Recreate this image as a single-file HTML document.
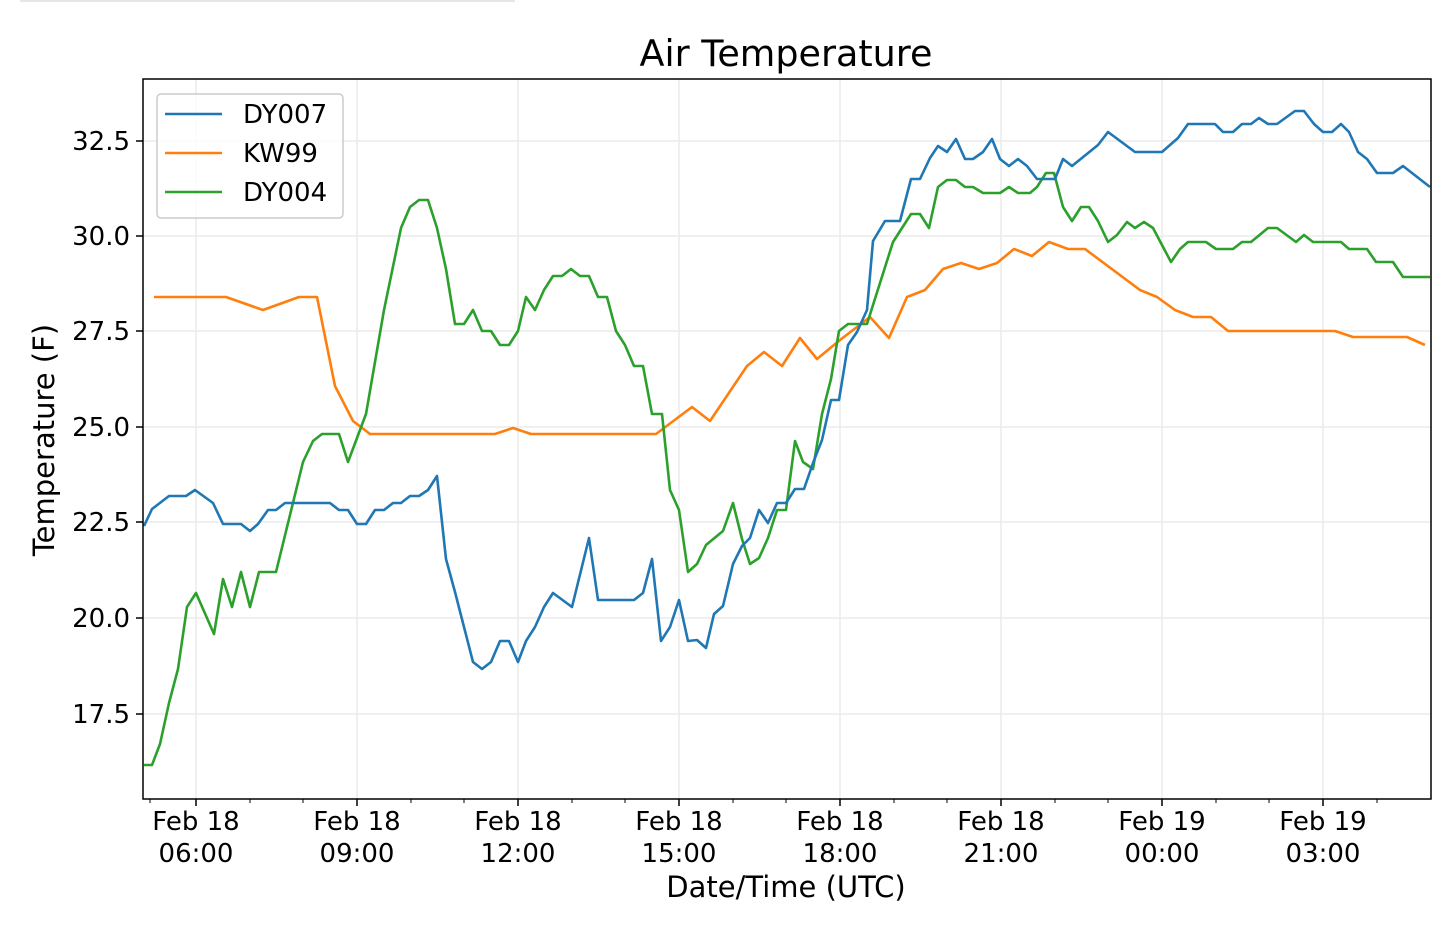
<!DOCTYPE html>
<html><head><meta charset="utf-8"><style>
html,body{margin:0;padding:0;background:#fff;}
svg{display:block;font-family:"DejaVu Sans","Liberation Sans",sans-serif;}
</style></head><body>
<svg width="1440" height="926" viewBox="0 0 1440 926" xmlns="http://www.w3.org/2000/svg">
<rect width="1440" height="926" fill="#fff"/>
<line x1="20" y1="1" x2="515" y2="1" stroke="#e6e6e6" stroke-width="2"/>
<g stroke="#ebebeb" stroke-width="1.5">
<line x1="196" y1="79" x2="196" y2="799"/><line x1="357" y1="79" x2="357" y2="799"/>
<line x1="518" y1="79" x2="518" y2="799"/><line x1="679" y1="79" x2="679" y2="799"/>
<line x1="840" y1="79" x2="840" y2="799"/><line x1="1001" y1="79" x2="1001" y2="799"/>
<line x1="1162" y1="79" x2="1162" y2="799"/><line x1="1323" y1="79" x2="1323" y2="799"/>
<line x1="143" y1="141" x2="1431" y2="141"/><line x1="143" y1="236" x2="1431" y2="236"/>
<line x1="143" y1="331" x2="1431" y2="331"/><line x1="143" y1="427" x2="1431" y2="427"/>
<line x1="143" y1="522" x2="1431" y2="522"/><line x1="143" y1="618" x2="1431" y2="618"/>
<line x1="143" y1="714" x2="1431" y2="714"/>
</g>
<g fill="none" stroke-width="2.6" stroke-linejoin="round">
<polyline stroke="#ff7f0e" points="154,297 226,297 263,310 299,297 317,297 335,386 353,421 370,434 495,434 513,428 531,434 656,434 692,407 710,421 747,366 764,352 782,366 800,338 817,359 840,340 870,317 889,338 907,297 925,290 943,269 961,263 979,269 997,263 1014,249 1032,256 1049,242 1068,249 1085,249 1140,290 1157,297 1175,310 1193,317 1211,317 1228,331 1335,331 1353,337 1407,337 1425,345"/>
<polyline stroke="#2ca02c" points="144,765 152,765 160,744 169,703 178,669 187,607 196,593 214,634 223,579 232,607 241,572 250,607 259,572 276,572 303,462 313,441 322,434 339,434 348,462 366,414 384,310 401,228 410,207 419,200 428,200 437,228 446,269 455,324 464,324 473,310 482,331 491,331 500,345 509,345 518,331 526,297 535,310 544,290 553,276 562,276 571,269 580,276 589,276 598,297 607,297 616,331 625,345 634,366 643,366 652,414 662,414 670,490 679,510 688,572 697,564 706,545 723,531 733,503 742,539 750,564 759,558 768,538 777,510 786,510 795,441 803,462 813,469 822,414 831,379 839,331 848,324 867,324 893,242 911,214 920,214 929,228 938,187 947,180 956,180 965,187 973,187 983,193 1000,193 1009,187 1018,193 1030,193 1037,187 1046,173 1054,173 1063,207 1072,221 1081,207 1089,207 1098,221 1108,242 1117,235 1127,222 1135,228 1144,222 1153,228 1171,262 1180,249 1188,242 1206,242 1216,249 1233,249 1242,242 1251,242 1268,228 1277,228 1296,242 1304,235 1313,242 1341,242 1349,249 1367,249 1376,262 1393,262 1403,277 1430,277"/>
<polyline stroke="#1f77b4" points="144,526 152,509 169,496 186,496 195,490 213,503 223,524 241,524 250,531 258,524 268,510 276,510 285,503 330,503 339,510 348,510 357,524 366,524 375,510 384,510 393,503 401,503 410,496 419,496 428,490 437,476 446,559 455,592 473,662 482,669 491,662 500,641 509,641 518,662 526,641 535,627 544,607 553,593 572,607 589,538 598,600 634,600 643,593 652,559 661,641 670,627 679,600 688,641 697,640 706,648 714,614 723,606 733,564 742,546 750,538 759,510 768,523 777,503 786,503 795,489 804,489 813,463 822,440 831,400 839,400 848,345 857,332 867,310 873,241 885,221 900,221 911,179 920,179 930,158 938,146 947,152 956,139 965,159 973,159 983,152 992,139 1000,159 1009,166 1018,159 1027,166 1037,179 1055,179 1063,159 1072,166 1098,145 1108,132 1135,152 1162,152 1178,138 1188,124 1215,124 1223,132 1233,132 1242,124 1251,124 1259,118 1268,124 1277,124 1295,111 1304,111 1314,124 1323,132 1332,132 1341,124 1349,132 1358,152 1367,159 1377,173 1393,173 1403,166 1430,187"/>
</g>
<rect x="143" y="79" width="1288" height="720" fill="none" stroke="#000" stroke-width="1.5"/>
<g stroke="#000" stroke-width="1.5">
<line x1="136" y1="141" x2="143" y2="141"/><line x1="136" y1="236" x2="143" y2="236"/>
<line x1="136" y1="331" x2="143" y2="331"/><line x1="136" y1="427" x2="143" y2="427"/>
<line x1="136" y1="522" x2="143" y2="522"/><line x1="136" y1="618" x2="143" y2="618"/>
<line x1="136" y1="714" x2="143" y2="714"/>
<line x1="196" y1="799" x2="196" y2="806"/><line x1="357" y1="799" x2="357" y2="806"/>
<line x1="518" y1="799" x2="518" y2="806"/><line x1="679" y1="799" x2="679" y2="806"/>
<line x1="840" y1="799" x2="840" y2="806"/><line x1="1001" y1="799" x2="1001" y2="806"/>
<line x1="1162" y1="799" x2="1162" y2="806"/><line x1="1323" y1="799" x2="1323" y2="806"/>
</g>
<g stroke="#000" stroke-width="1">
<line x1="250" y1="799" x2="250" y2="803"/><line x1="303" y1="799" x2="303" y2="803"/>
<line x1="411" y1="799" x2="411" y2="803"/><line x1="464" y1="799" x2="464" y2="803"/>
<line x1="572" y1="799" x2="572" y2="803"/><line x1="625" y1="799" x2="625" y2="803"/>
<line x1="733" y1="799" x2="733" y2="803"/><line x1="786" y1="799" x2="786" y2="803"/>
<line x1="894" y1="799" x2="894" y2="803"/><line x1="947" y1="799" x2="947" y2="803"/>
<line x1="1055" y1="799" x2="1055" y2="803"/><line x1="1108" y1="799" x2="1108" y2="803"/>
<line x1="1216" y1="799" x2="1216" y2="803"/><line x1="1269" y1="799" x2="1269" y2="803"/>
<line x1="1377" y1="799" x2="1377" y2="803"/><line x1="150" y1="799" x2="150" y2="803"/>
</g>
<g font-size="26" fill="#000" text-anchor="end">
<text x="130" y="150">32.5</text><text x="130" y="245">30.0</text>
<text x="130" y="340">27.5</text><text x="130" y="436">25.0</text>
<text x="130" y="531">22.5</text><text x="130" y="627">20.0</text>
<text x="130" y="723">17.5</text>
</g>
<g font-size="26" fill="#000" text-anchor="middle">
<text x="196" y="830">Feb 18</text><text x="196" y="862">06:00</text>
<text x="357" y="830">Feb 18</text><text x="357" y="862">09:00</text>
<text x="518" y="830">Feb 18</text><text x="518" y="862">12:00</text>
<text x="679" y="830">Feb 18</text><text x="679" y="862">15:00</text>
<text x="840" y="830">Feb 18</text><text x="840" y="862">18:00</text>
<text x="1001" y="830">Feb 18</text><text x="1001" y="862">21:00</text>
<text x="1162" y="830">Feb 19</text><text x="1162" y="862">00:00</text>
<text x="1323" y="830">Feb 19</text><text x="1323" y="862">03:00</text>
<text x="786" y="897" font-size="29">Date/Time (UTC)</text>
<text x="786" y="66" font-size="36.5">Air Temperature</text>
<text transform="translate(54,440) rotate(-90)" font-size="29">Temperature (F)</text>
</g>
<rect x="157" y="94" width="186" height="124" rx="4" fill="#fff" fill-opacity="0.8" stroke="#ccc" stroke-width="1.5"/>
<g stroke-width="2.6">
<line x1="165" y1="114" x2="222" y2="114" stroke="#1f77b4"/>
<line x1="165" y1="153" x2="222" y2="153" stroke="#ff7f0e"/>
<line x1="165" y1="192" x2="222" y2="192" stroke="#2ca02c"/>
</g>
<g font-size="26" fill="#000">
<text x="243" y="123">DY007</text><text x="243" y="162">KW99</text><text x="243" y="201">DY004</text>
</g>
</svg>
</body></html>
